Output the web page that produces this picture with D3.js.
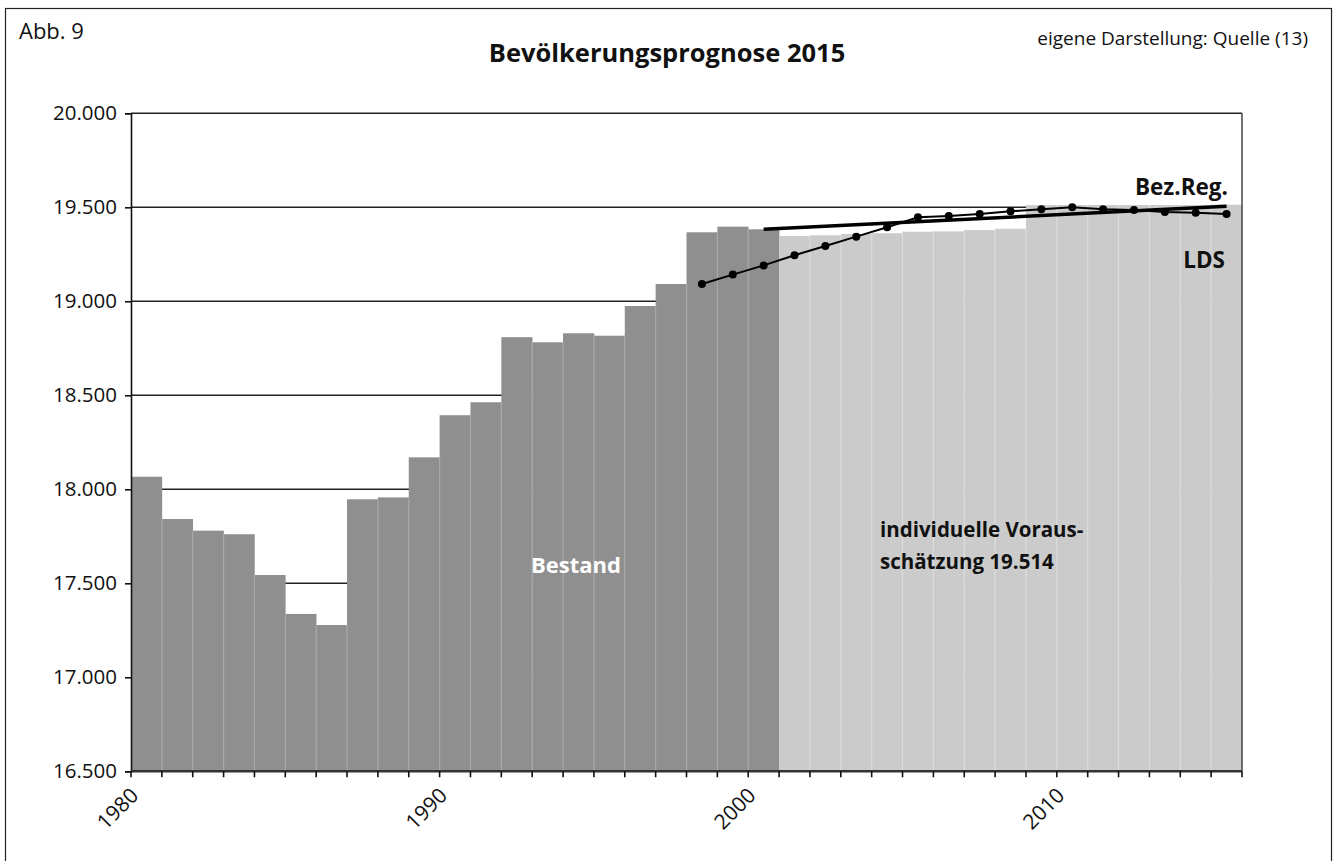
<!DOCTYPE html>
<html lang="de">
<head>
<meta charset="utf-8">
<title>Bevölkerungsprognose 2015</title>
<script src="https://cdn.jsdelivr.net/npm/d3@7"></script>
<style>
  html, body { margin: 0; padding: 0; background: #fff; }
  svg { display: block; }
  text { font-family: "Open Sans", "Noto Sans", sans-serif; }
</style>
</head>
<body>
<svg id="chart" width="1337" height="861"></svg>
<script>
// Einwohnerzahlen (Bestand) 1980–2000
const bestandYears = [1980,1981,1982,1983,1984,1985,1986,1987,1988,1989,1990,
                      1991,1992,1993,1994,1995,1996,1997,1998,1999,2000];
const bestandValues = [18067,17842,17780,17761,17544,17337,17278,17947,17957,18170,18394,
                       18463,18809,18782,18830,18817,18975,19092,19367,19397,19383];

// individuelle Vorausschätzung 2001–2015
const prognoseYears = [2001,2002,2003,2004,2005,2006,2007,2008,
                       2009,2010,2011,2012,2013,2014,2015];
const prognoseValues = [19347,19351,19358,19362,19370,19372,19379,19386,
                        19512,19512,19512,19512,19512,19512,19514];

// Prognose LDS
const ldsYears = [1998,1999,2000,2001,2002,2003,2004,2005,2006,
                  2007,2008,2009,2010,2011,2012,2013,2014,2015];
const ldsValues = [19092,19142,19191,19245,19294,19344,19394,19447,19454,
                   19464,19479,19489,19500,19489,19486,19475,19471,19464];

// Prognose Bezirksregierung
const bezRegYears = [2000, 2015];
const bezRegValues = [19383, 19505];

// Achsenbeschriftungen
const yTicks = [16500,17000,17500,18000,18500,19000,19500,20000];
const xLabelYears = [1980, 1990, 2000, 2010];

const allYears = bestandYears.concat(prognoseYears);
const svg = d3.select("#chart");

const plot = { left: 131, right: 1242, top: 113.3, bottom: 771.3 };

const x = d3.scaleBand().domain(allYears).range([plot.left, plot.right]).padding(0);
const y = d3.scaleLinear().domain([16500, 20000]).range([plot.bottom, plot.top]);
const cx = yr => x(yr) + x.bandwidth() / 2;
const fmt = v => d3.format(",")(v).replace(/,/g, ".");

// Rahmen um die Abbildung
svg.append("rect")
  .attr("x", 5.5).attr("y", 8.5).attr("width", 1326).attr("height", 870)
  .attr("fill", "none").attr("stroke", "#222").attr("stroke-width", 1.2);

// Kopfzeilen
svg.append("text").attr("x", 19).attr("y", 39)
  .attr("font-size", 22).attr("fill", "#111").text("Abb. 9");
svg.append("text").attr("x", 667).attr("y", 62).attr("text-anchor", "middle")
  .attr("font-size", 25.5).attr("font-weight", 700).attr("fill", "#111")
  .text("Bevölkerungsprognose 2015");
svg.append("text").attr("x", 1308).attr("y", 45).attr("text-anchor", "end")
  .attr("font-size", 19).attr("fill", "#111").text("eigene Darstellung: Quelle (13)");

// Gitterlinien
svg.append("g").selectAll("line").data(yTicks.filter(v => v > 16500))
  .join("line")
  .attr("x1", plot.left).attr("x2", plot.right)
  .attr("y1", d => y(d)).attr("y2", d => y(d))
  .attr("stroke", "#222").attr("stroke-width", 1.6);

// Säulen
function drawBars(years, values, fill, sep) {
  const g = svg.append("g");
  g.selectAll("rect").data(years.map((yr, i) => ({ yr, v: values[i] })))
    .join("rect")
    .attr("x", d => x(d.yr)).attr("width", x.bandwidth() + 0.3)
    .attr("y", d => y(d.v)).attr("height", d => y(16500) - y(d.v))
    .attr("fill", fill);
  // helle Trennlinien zwischen benachbarten Säulen
  const pairs = years.slice(1).map((yr, i) => ({ yr, top: Math.max(y(values[i]), y(values[i + 1])) }));
  g.selectAll("line").data(pairs).join("line")
    .attr("x1", d => x(d.yr)).attr("x2", d => x(d.yr))
    .attr("y1", d => d.top).attr("y2", y(16500))
    .attr("stroke", sep).attr("stroke-width", 1.2);
}
drawBars(bestandYears, bestandValues, "#8f8f8f", "#a9a9a9");
drawBars(prognoseYears, prognoseValues, "#cbcbcb", "#dcdcdc");

// Rechter Rand der Zeichenfläche
svg.append("line")
  .attr("x1", plot.right).attr("x2", plot.right)
  .attr("y1", plot.top).attr("y2", plot.bottom)
  .attr("stroke", "#444").attr("stroke-width", 1.5);

// y-Achse
const yAxis = d3.axisLeft(y).tickValues(yTicks).tickSize(6).tickPadding(8).tickFormat(fmt);
const gy = svg.append("g").attr("transform", `translate(${plot.left},0)`).call(yAxis);
gy.select(".domain").attr("stroke", "#111").attr("stroke-width", 1.6);
gy.selectAll(".tick line").attr("stroke", "#111").attr("stroke-width", 1.6);
gy.selectAll(".tick text").attr("font-size", 20.5).attr("fill", "#111")
  .attr("font-family", "'Open Sans', sans-serif");

// x-Achse mit Teilstrichen an den Säulengrenzen
svg.append("line")
  .attr("x1", plot.left).attr("x2", plot.right)
  .attr("y1", plot.bottom).attr("y2", plot.bottom)
  .attr("stroke", "#333").attr("stroke-width", 2.4);
const boundaries = allYears.map(yr => x(yr)).concat([plot.right]);
svg.append("g").selectAll("line").data(boundaries).join("line")
  .attr("x1", d => d).attr("x2", d => d)
  .attr("y1", plot.bottom).attr("y2", plot.bottom + 6)
  .attr("stroke", "#111").attr("stroke-width", 1.6);
svg.append("g").selectAll("text").data(xLabelYears).join("text")
  .attr("transform", d => `translate(${cx(d) - 17},${plot.bottom + 15}) rotate(-45)`)
  .attr("text-anchor", "end").attr("dy", "0.7em")
  .attr("font-size", 21).attr("fill", "#111").text(d => d);

// Prognoselinien
const line = d3.line().x(d => cx(d.yr)).y(d => y(d.v));
const bezData = bezRegYears.map((yr, i) => ({ yr, v: bezRegValues[i] }));
const ldsData = ldsYears.map((yr, i) => ({ yr, v: ldsValues[i] }));

svg.append("path").datum(bezData).attr("d", line)
  .attr("fill", "none").attr("stroke", "#000").attr("stroke-width", 3.5);
svg.append("path").datum(ldsData).attr("d", line)
  .attr("fill", "none").attr("stroke", "#000").attr("stroke-width", 2);
svg.append("g").selectAll("circle").data(ldsData).join("circle")
  .attr("cx", d => cx(d.yr)).attr("cy", d => y(d.v)).attr("r", 4).attr("fill", "#000");

// Beschriftungen in der Grafik
svg.append("text").attr("x", 1228).attr("y", 195).attr("text-anchor", "end")
  .attr("font-size", 22.5).attr("font-weight", 700).attr("fill", "#111").text("Bez.Reg.");
svg.append("text").attr("x", 1225).attr("y", 268).attr("text-anchor", "end")
  .attr("font-size", 22.5).attr("font-weight", 700).attr("fill", "#111").text("LDS");
svg.append("text").attr("x", 576).attr("y", 573).attr("text-anchor", "middle")
  .attr("font-size", 22).attr("font-weight", 700).attr("fill", "#fff").text("Bestand");
const prog = svg.append("text").attr("font-size", 20.5).attr("font-weight", 700).attr("fill", "#111");
prog.append("tspan").attr("x", 880).attr("y", 537).text("individuelle Voraus-");
prog.append("tspan").attr("x", 880).attr("y", 569).text("schätzung " + fmt(prognoseValues[prognoseValues.length - 1]));
</script>
</body>
</html>
